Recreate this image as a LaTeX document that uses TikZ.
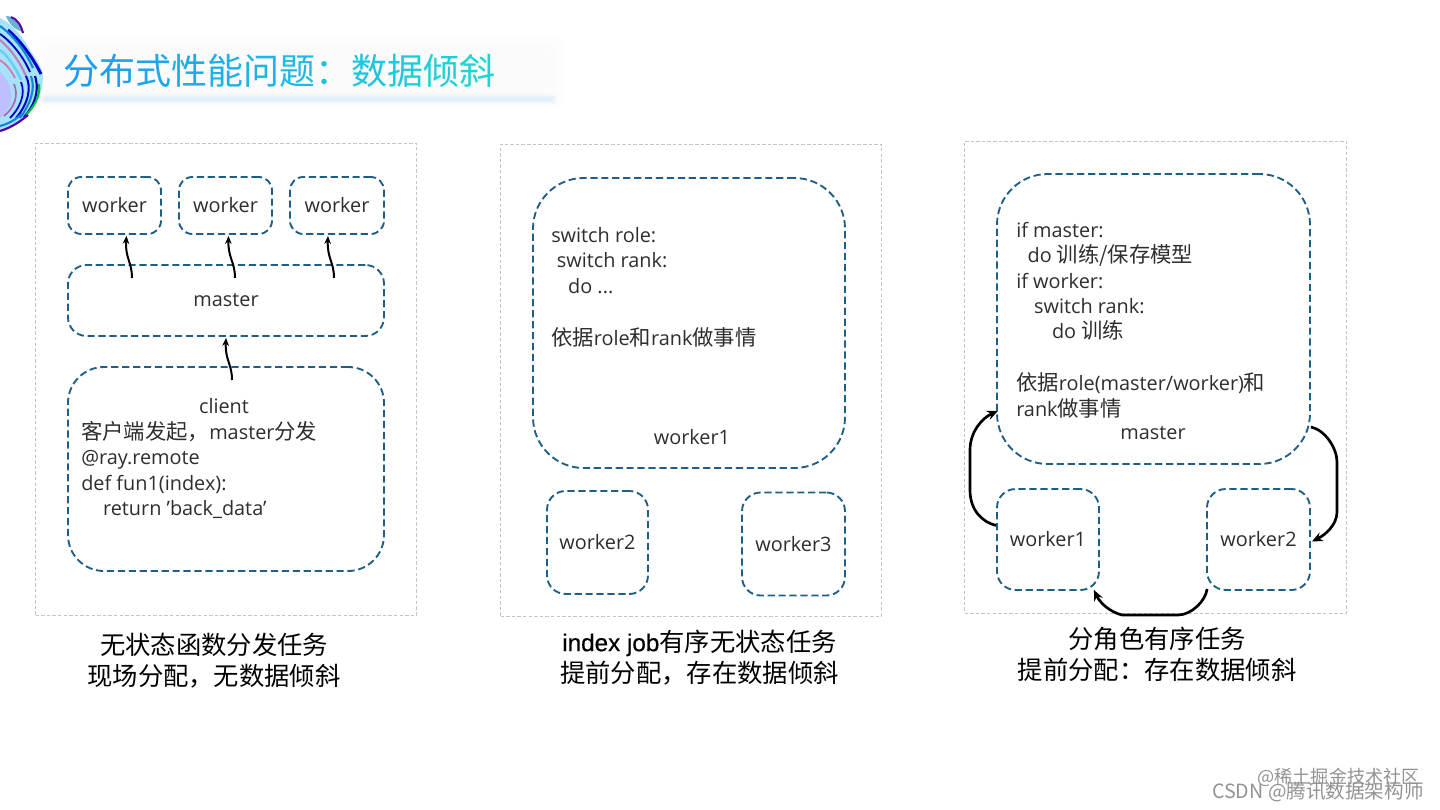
\documentclass[tikz,border=0pt]{standalone}
\usepackage{fontspec}
\setmainfont{Open Sans}
\newfontfamily\cjk{Noto Sans CJK SC}
\newfontfamily\capl[FakeBold=0.5]{Liberation Sans}
\usetikzlibrary{arrows.meta,calc}
\definecolor{dashblue}{HTML}{1F5F85}
\definecolor{panelgray}{HTML}{C4C4C4}
\definecolor{inktext}{HTML}{2E2E2E}
\definecolor{glow}{HTML}{8CC8F2}
\newcommand{\zh}[1]{{\cjk\fontsize{16}{19}\selectfont #1}}
\newcommand{\gc}[2]{{\color[HTML]{#1}#2}}
\tikzset{
  panelbox/.style={draw=panelgray,line width=0.7pt,dash pattern=on 2.6pt off 1.6pt,inner sep=0pt},
  dbox/.style={draw=dashblue,line width=1.4pt,dash pattern=on 5.4pt off 2.8pt,inner sep=0pt,font=\fontsize{14.9}{19}\selectfont,text=inktext},
  small/.style={dbox,rounded corners=10pt},
  mid/.style={dbox,rounded corners=14pt},
  big/.style={dbox,rounded corners=38pt},
  body/.style={font=\fontsize{14.9}{19}\selectfont,text=inktext,align=left,inner sep=0pt,anchor=north west},
  lbl/.style={font=\fontsize{14.9}{19}\selectfont,text=inktext,inner sep=0pt},
  caption/.style={font=\cjk\fontsize{19}{23.5}\selectfont,text=black,align=center,inner sep=0pt},
  thin arrow/.style={draw=black,line width=1.5pt,-{Stealth[length=6pt,width=5pt]}},
  bold arrow/.style={draw=black,line width=2pt,-{Stealth[length=8pt,width=7pt]}},
  mark text/.style={text=gray!85,inner sep=0pt},
}
\begin{document}
\begin{tikzpicture}[x=0.75pt,y=-0.75pt]
\useasboundingbox (0,0) rectangle (1440,810);
\fill[white] (0,0) rectangle (1440,810);

% title band
\foreach \i in {0,1,2,3}{
  \fill[glow,opacity=0.009,rounded corners=8pt] (32+\i*4,36+\i*3) rectangle (566-\i*4,108-\i*3);
}
\foreach \i/\o in {0/0.03,1/0.05,2/0.07,3/0.09}{
  \fill[glow,opacity=\o] (38+\i*2,93+\i*1.5) rectangle (558-\i*2,105-\i*1.5);
}
% logo
\begin{scope}
\clip (0,0) rectangle (60,140);
\fill[cyan!35!white] (0,18) .. controls (16,26) and (24,40) .. (30,50) .. controls (36,60) and (42,66) .. (43,76) .. controls (43,95) and (35,110) .. (22,120) .. controls (14,127) and (6,131) .. (0,132) -- cycle;
\fill[blue!25!white] (0,72) .. controls (8,80) and (14,90) .. (10,104) .. controls (7,112) and (3,116) .. (0,118) -- cycle;
\draw[blue!80!black,line width=2.2pt] (8,30) .. controls (22,42) and (34,60) .. (41,74);
\draw[cyan!70!blue,line width=1.6pt] (0,26) .. controls (14,36) and (26,52) .. (33,68);
\draw[blue!75!black,line width=1.4pt] (0,34) .. controls (12,42) and (24,58) .. (30,72);
\draw[violet!50,line width=1.6pt] (0,40) .. controls (10,48) and (20,62) .. (26,76);
\draw[cyan!60,line width=1.8pt] (0,50) .. controls (8,56) and (16,68) .. (21,80);
\draw[magenta!45!violet!60,line width=1.4pt] (0,60) .. controls (6,64) and (11,70) .. (15,78);
\draw[blue!80!black,line width=1.5pt] (26,76) .. controls (32,88) and (28,104) .. (16,118);
\draw[cyan!70!blue,line width=1.6pt] (31,76) .. controls (36,90) and (30,104) .. (20,118);
\draw[blue!70!black,line width=1.6pt] (35,76) .. controls (40,92) and (34,106) .. (24,117);
\draw[green!50!teal,line width=1.5pt] (39,84) .. controls (41,96) and (33,108) .. (26,115);
\draw[blue!80!black,line width=1.3pt] (21,82) .. controls (26,94) and (20,108) .. (10,118);
\draw[violet!60,line width=1.3pt] (14,84) .. controls (19,96) and (14,108) .. (4,116);
\draw[violet!70!blue,line width=1.6pt] (28,115) .. controls (20,122) and (10,128) .. (0,131);
\draw[cyan!70!blue,line width=1.6pt] (22,114) .. controls (15,120) and (8,124) .. (0,126);
\fill[cyan!50!teal!70] (6,16) .. controls (14,16) and (20,22) .. (23,32) .. controls (15,30) and (9,24) .. (6,16) -- cycle;
\draw[violet!70!blue,line width=1.5pt] (11,17) .. controls (17,19) and (21,25) .. (23,33);
\end{scope}

\node[anchor=west,inner sep=0pt,font=\cjk\fontsize{27}{32}\selectfont] (title) at (63,71) {\gc{1E9CEF}{分}\gc{1EA1EE}{布}\gc{1EA6EC}{式}\gc{1EABEA}{性}\gc{1EB0E8}{能}\gc{1EB5E6}{问}\gc{1EBAE4}{题}\gc{1EBFE2}{：}\gc{1EC5DE}{数}\gc{1ECBDA}{据}\gc{1ED0D6}{倾}\gc{1ED5D2}{斜}};

% panels
\node[panelbox,minimum width=285.75pt,minimum height=354pt] (pa) at (226,379) {};
\node[panelbox,minimum width=285.75pt,minimum height=354pt] (pb) at (691,380) {};
\node[panelbox,minimum width=286.5pt,minimum height=354pt] (pc) at (1155.5,377) {};

% left panel
\node[small,minimum width=69.75pt,minimum height=42.75pt] (wa) at (114.5,205.5) {worker};
\node[small,minimum width=69.75pt,minimum height=42.75pt] (wb) at (225.5,205.5) {worker};
\node[small,minimum width=70.5pt,minimum height=42.75pt] (wc) at (337,205.5) {worker};
\node[mid,minimum width=237pt,minimum height=53.25pt] (ma) at (226,300.5) {master};
\node[big,rounded corners=27pt,minimum width=237pt,minimum height=153pt] (cl) at (226,469) {};
\node[lbl] (clt) at (224,406) {client};
\node[body] (clb) at (81,421) {\zh{客户端发起，}master\zh{分发}\\@ray.remote\\def fun1(index):\\\hspace*{1.1em}return 'back\_data'};

\coordinate (sa) at (132,278);
\coordinate (sb) at (235,278);
\coordinate (sc) at (334,278);
\coordinate (sd) at (232,380);
\draw[thin arrow] (sa) .. controls (132,262) and (125,258) .. ($(wa.south)+(12,1)$);
\draw[thin arrow] (sb) .. controls (235,262) and (228,258) .. ($(wb.south)+(3,1)$);
\draw[thin arrow] (sc) .. controls (334,262) and (327,258) .. ($(wc.south)+(-9,1)$);
\draw[thin arrow] (sd) .. controls (232,364) and (225,360) .. ($(ma.south)+(0,1)$);

% middle panel
\node[big,minimum width=234pt,minimum height=217.5pt] (mw) at (689,323) {};
\node[body] (mt) at (551,227) {switch role:\\\hspace*{0.28em}switch rank:\\\hspace*{0.85em}do ...\\[20pt]\zh{依据}role\zh{和}rank\zh{做事情}};
\node[lbl] (mwl) at (692,437) {worker1};
\node[mid,minimum width=75.75pt,minimum height=77.25pt] (mb) at (597.5,542.5) {worker2};
\node[mid,minimum width=77.25pt,minimum height=77.25pt] (mc) at (793.5,544) {worker3};

% right panel
\node[big,minimum width=234.75pt,minimum height=217.5pt] (rm) at (1153.5,319) {};
\node[body] (rt) at (1016,222) {if master:\\\hspace*{0.57em}do \zh{训练/保存模型}\\if worker:\\\hspace*{0.9em}switch rank:\\\hspace*{1.8em}do \zh{训练}\\[20pt]\zh{依据}role(master/worker)\zh{和}\\rank\zh{做事情}};
\node[lbl] (rml) at (1153,433) {master};
\node[mid,minimum width=76.5pt,minimum height=75.75pt] (ra) at (1048,539.5) {worker1};
\node[mid,minimum width=77.25pt,minimum height=75.75pt] (rb) at (1258.5,539.5) {worker2};

\draw[bold arrow] ($(ra.west)+(0,-14)$) .. controls (982,522) and (970,510) .. (970,490) -- (970,450) .. controls (970,432) and (982,418) .. ($(rm.east)+(-313,92)$);
\draw[bold arrow] ($(rm.east)+(0,108)$) .. controls (1325,430) and (1337,448) .. (1337,462) -- (1337,512) .. controls (1337,525) and (1325,535) .. ($(rb.east)+(1,2)$);
\draw[bold arrow] ($(rb.south west)+(1,-2)$) .. controls (1206,600) and (1192,615) .. (1178,615) -- (1122,615) .. controls (1110,612) and (1100,603) .. ($(ra.south east)+(-6,-1)$);

% captions
\node[caption] (ca) at (214,660.5) {无状态函数分发任务\\现场分配，无数据倾斜};
\node[caption] (cb) at (699.5,657.5) {{\capl\fontsize{18.2}{23.5}\selectfont index job}有序无状态任务\\提前分配，存在数据倾斜};
\node[caption] (cc) at (1157,654.5) {分角色有序任务\\提前分配：存在数据倾斜};

% watermark
\node[mark text,anchor=east,font=\cjk\fontsize{13.6}{15}\selectfont] (m1) at (1420,777) {@稀土掘金技术社区};
\node[mark text,anchor=east,font=\cjk\fontsize{14.7}{15}\selectfont] (m2) at (1424,792) {CSDN @腾讯数据架构师};
\end{tikzpicture}
\end{document}
